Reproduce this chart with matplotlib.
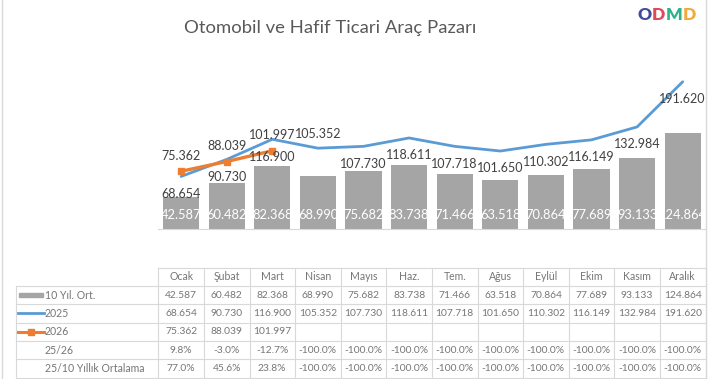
import numpy as np
import matplotlib
matplotlib.use('Agg')
import matplotlib.pyplot as plt
from matplotlib.patches import Rectangle

plt.rcParams['font.family'] = ['Lato', 'DejaVu Sans']

# veriler
months = ['Ocak', 'Şubat', 'Mart', 'Nisan', 'Mayıs', 'Haz.', 'Tem.', 'Ağus', 'Eylül', 'Ekim', 'Kasım', 'Aralık']
avg10 = [42587, 60482, 82368, 68990, 75682, 83738, 71466, 63518, 70864, 77689, 93133, 124864]
y2025 = [68654, 90730, 116900, 105352, 107730, 118611, 107718, 101650, 110302, 116149, 132984, 191620]
y2026 = [75362, 88039, 101997, None, None, None, None, None, None, None, None, None]
pct_25_26 = [9.8, -3.0, -12.7, -100.0, -100.0, -100.0, -100.0, -100.0, -100.0, -100.0, -100.0, -100.0]
pct_25_10 = [77.0, 45.6, 23.8, -100.0, -100.0, -100.0, -100.0, -100.0, -100.0, -100.0, -100.0, -100.0]
row_labels = ['10 Yıl. Ort.', '2025', '2026', '25/26', '25/10 Yıllık Ortalama']

GRAY = '#A5A5A5'
BLUE = '#5B9BD5'
ORANGE = '#ED7D31'
TXT = '#404040'
TBL = '#767676'
GRID = '#D9D9D9'

def fmt(v):
    return '' if v is None else '{:,}'.format(v).replace(',', '.')

def fmtp(p):
    return '{:.1f}%'.format(p)

W, H = 708, 379
fig = plt.figure(figsize=(W / 100, H / 100), dpi=100)

# sayfa koordinatlari (piksel)
LEFT = 158.3
COLW = 45.6
BASE = 229.3
TOP = 75.3

ax = fig.add_axes([LEFT / W, (H - BASE) / H, 12 * COLW / W, (BASE - TOP) / H])
x = np.arange(len(months))
ax.set_xlim(-0.5, 11.5)
ax.set_ylim(0, 200000)

bars = ax.bar(x, avg10, width=0.79, color=GRAY, zorder=1)
for b, v in zip(bars, avg10):
    t = ax.text(b.get_x() + b.get_width() / 2, 18500, fmt(v), ha='center', va='center',
                color='white', fontsize=9.3, zorder=5)
    t.set_clip_path(b)

ax.plot(x, y2025, color=BLUE, lw=2.0, zorder=3, solid_capstyle='round')
y26 = np.array([np.nan if v is None else v for v in y2026], dtype=float)
ax.plot(x, y26, color=ORANGE, lw=2.4, marker='s', markersize=5, zorder=4)

for i, v in enumerate(y2025):
    dy = 10 if i == 3 else -12.5
    ax.annotate(fmt(v), (i, v), xytext=(0, dy), textcoords='offset points',
                ha='center', va='center', color=TXT, fontsize=9, zorder=6)
for i, v in enumerate(y2026):
    if v is None:
        continue
    ax.annotate(fmt(v), (i, v), xytext=(0, 11), textcoords='offset points',
                ha='center', va='center', color=TXT, fontsize=9, zorder=6)

for s in ['top', 'right', 'left']:
    ax.spines[s].set_visible(False)
ax.spines['bottom'].set_color(GRID)
ax.set_xticks([])
ax.set_yticks([])
ax.patch.set_alpha(0)

# tablo ve diger ogeler: piksel katmani
ov = fig.add_axes([0, 0, 1, 1], zorder=-1)
ov.set_xlim(0, W)
ov.set_ylim(H, 0)
ov.axis('off')

rows_top = [267.7, 286.0, 304.3, 322.6, 340.9, 359.2, 377.5]
TL = 16
RIGHT = LEFT + 12 * COLW

# izgara
ov.plot([LEFT, RIGHT], [rows_top[0]] * 2, color=GRID, lw=0.8)
for yy in rows_top[1:]:
    ov.plot([TL, RIGHT], [yy] * 2, color=GRID, lw=0.8)
ov.plot([TL, TL], [rows_top[1], rows_top[-1]], color=GRID, lw=0.8)
for j in range(13):
    xx = LEFT + j * COLW
    ov.plot([xx, xx], [rows_top[0], rows_top[-1]], color=GRID, lw=0.8)

def cy(r):
    return (rows_top[r] + rows_top[r + 1]) / 2

for j, m in enumerate(months):
    ov.text(LEFT + (j + 0.5) * COLW, cy(0), m, ha='center', va='center', color=TBL, fontsize=7.6)

data_rows = [[fmt(v) for v in avg10], [fmt(v) for v in y2025], [fmt(v) for v in y2026],
             [fmtp(p) for p in pct_25_26], [fmtp(p) for p in pct_25_10]]
for r, vals in enumerate(data_rows):
    for j, s in enumerate(vals):
        ov.text(LEFT + (j + 0.5) * COLW, cy(r + 1), s, ha='center', va='center', color=TBL, fontsize=7.4)
    ov.text(45, cy(r + 1), row_labels[r], ha='left', va='center', color=TBL, fontsize=7.6)

# legend anahtarlari
ov.add_patch(Rectangle((19, cy(1) - 2.2), 24, 4.4, color=GRAY))
ov.plot([18, 44], [cy(2)] * 2, color=BLUE, lw=2)
ov.plot([18, 44], [cy(3)] * 2, color=ORANGE, lw=2.2)
ov.plot([31], [cy(3)], marker='s', color=ORANGE, markersize=4.5)

# cerceve
ov.plot([2, 2], [0, H], color=GRID, lw=1)
ov.plot([705.5, 705.5], [0, H], color=GRID, lw=1)

# baslik
ov.text(330, 28, 'Otomobil ve Hafif Ticari Araç Pazarı', ha='center', va='center',
        color='#595959', fontsize=13.3)

# logo
logo = [('O', '#3F4C9B', 15), ('D', '#E0475B', 14), ('M', '#2DB38A', 17), ('D', '#F2A93B', 14)]
lx = 637
for ch, c, w in logo:
    ov.text(lx, 15, ch, ha='left', va='center', color=c, fontsize=12.5, fontweight='heavy')
    lx += w

fig.savefig('out.png', dpi=100)
